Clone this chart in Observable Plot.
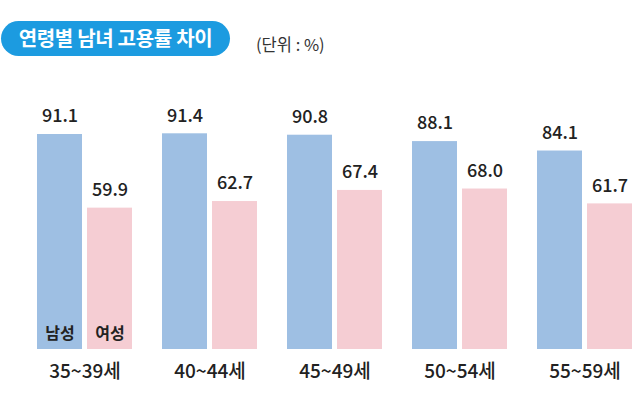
<!DOCTYPE html>
<html><head><meta charset="utf-8">
<script src="https://cdn.jsdelivr.net/npm/d3@7"></script>
<script src="https://cdn.jsdelivr.net/npm/@observablehq/plot@0.6"></script>
<style>
body{margin:0;background:#fff;font-family:"Noto Sans CJK KR","Noto Sans",sans-serif;}
#wrap{position:relative;width:640px;height:403px;overflow:hidden;}
#head{position:relative;height:75px;}
#pill{position:absolute;left:1px;top:21px;width:229px;height:35px;border-radius:18px;background:#1c9be0;color:#fff;font-weight:700;font-size:20px;line-height:34px;text-align:center;letter-spacing:-0.3px;}
#unit{position:absolute;left:256px;top:32px;font-size:16.5px;color:#333;}
</style></head>
<body><div id="wrap"><div id="head"><div id="pill">연령별 남녀 고용률 차이</div><div id="unit">(단위 : %)</div></div><div id="chart"></div></div>
<script>
const ages = ["35~39세","40~44세","45~49세","50~54세","55~59세"];
const sexes = ["남성","여성"];
const male = [91.1, 91.4, 90.8, 88.1, 84.1];
const female = [59.9, 62.7, 67.4, 68.0, 61.7];
const colors = ["#9ebfe3","#f5cdd3"];

const data = ages.flatMap((a,i)=>[
  {age:a, sex:sexes[0], v:male[i]},
  {age:a, sex:sexes[1], v:female[i]}
]);
const legendData = data.filter(d=>d.age===ages[0]);

const chart = Plot.plot({
  width:640, height:328,
  marginLeft:37, marginRight:8, marginTop:38, marginBottom:54,
  style:{fontFamily:'"Noto Sans CJK KR","Noto Sans",sans-serif', background:"#fff"},
  fx:{domain:ages, paddingInner:0.24, paddingOuter:0, label:null},
  x:{domain:sexes, paddingInner:0.1, paddingOuter:0, axis:null},
  y:{domain:[0,100], axis:null},
  color:{domain:sexes, range:colors},
  marks:[
    Plot.barY(data,{fx:"age", x:"sex", y:"v", fill:"sex"}),
    Plot.text(data,{fx:"age", x:"sex", y:"v", text:d=>d.v.toFixed(1), dy:-18, fontSize:18, fontWeight:500, fill:"#222"}),
    Plot.text(legendData,{fx:"age", x:"sex", y:0, text:"sex", dy:-16, fontSize:16, fontWeight:700, fill:"#222"}),
    Plot.axisFx({anchor:"bottom", tickSize:0, tickPadding:15, fontSize:19, fontWeight:500, fill:"#222", label:null})
  ]
});
document.getElementById("chart").appendChild(chart);
</script></body></html>
